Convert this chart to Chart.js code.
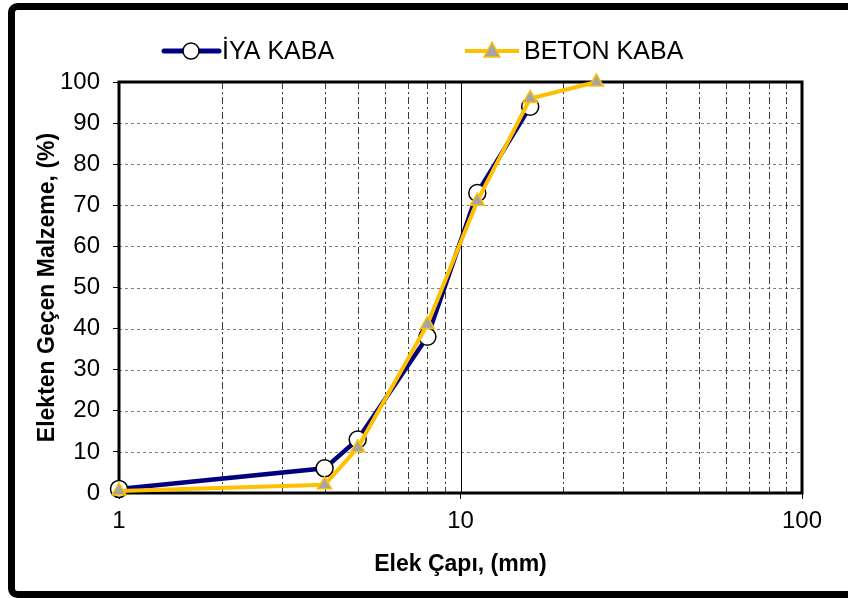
<!DOCTYPE html>
<html>
<head>
<meta charset="utf-8">
<script src="https://cdn.jsdelivr.net/npm/chart.js@4/dist/chart.umd.min.js"></script>
<style>
  html, body { margin:0; padding:0; background:#fff; }
  #wrap { width:848px; height:598px; position:relative; }
</style>
</head>
<body>
<div id="wrap"><canvas id="elekChart" width="848" height="598"></canvas></div>
<script>
// ---- data ----
const elekCapi   = [1, 4, 5, 8, 11.2, 16, 25];   // mm
const iyaKaba    = [1, 6, 13, 38, 73, 94];        // % passing
const betonKaba  = [0.5, 2, 11, 41, 71, 96, 100]; // % passing
const xTicks     = [1, 10, 100];
const xMinor     = [2, 3, 4, 5, 6, 7, 8, 9, 20, 30, 40, 50, 60, 70, 80, 90];
const yGrid      = [10, 20, 30, 40, 50, 60, 70, 80, 90];
const seriesNames = ['İYA KABA', 'BETON KABA'];

const FONT = "'Liberation Sans', Arial, sans-serif";

function toPoints(ys){
  return ys.map((y, i) => ({ x: elekCapi[i], y: y }));
}

// grid lines, plot frame, legend and outer frame
const decorPlugin = {
  id: 'decor',
  beforeDatasetsDraw(chart){
    const { ctx, chartArea: a, scales: { x, y } } = chart;
    ctx.save();
    // horizontal dashed grid
    ctx.strokeStyle = '#7f7f7f';
    ctx.lineWidth = 1;
    ctx.setLineDash([3, 3]);
    yGrid.forEach(v => {
      const py = Math.round(y.getPixelForValue(v)) + 0.5;
      ctx.beginPath(); ctx.moveTo(a.left, py); ctx.lineTo(a.right, py); ctx.stroke();
    });
    // vertical minor grid (dash-dot)
    ctx.strokeStyle = '#3a3a3a';
    ctx.setLineDash([7, 3, 2, 3]);
    xMinor.forEach(v => {
      const px = Math.round(x.getPixelForValue(v)) + 0.5;
      ctx.beginPath(); ctx.moveTo(px, a.top); ctx.lineTo(px, a.bottom); ctx.stroke();
    });
    // major at 10
    ctx.setLineDash([]);
    ctx.strokeStyle = '#000';
    const p10 = Math.round(x.getPixelForValue(10)) + 0.5;
    ctx.beginPath(); ctx.moveTo(p10, a.top); ctx.lineTo(p10, a.bottom); ctx.stroke();
    // plot frame
    ctx.lineWidth = 3;
    ctx.strokeRect(a.left, a.top, a.right - a.left, a.bottom - a.top);
    ctx.restore();
  },
  afterDraw(chart){
    const { ctx } = chart;
    ctx.save();
    // outer frame (right side falls outside the picture)
    ctx.strokeStyle = '#000';
    ctx.lineWidth = 7;
    ctx.beginPath();
    ctx.roundRect(11.5, 6.5, 860, 588, 6);
    ctx.stroke();

    // legend
    const ly = 51;
    ctx.lineCap = 'round';
    ctx.strokeStyle = '#000080';
    ctx.lineWidth = 5;
    ctx.beginPath(); ctx.moveTo(164, ly); ctx.lineTo(219, ly); ctx.stroke();
    ctx.lineCap = 'butt';
    ctx.fillStyle = '#fff';
    ctx.strokeStyle = '#000';
    ctx.lineWidth = 1.5;
    ctx.beginPath(); ctx.arc(191, ly, 8, 0, Math.PI * 2); ctx.fill(); ctx.stroke();

    ctx.strokeStyle = '#FFC000';
    ctx.lineWidth = 4;
    ctx.beginPath(); ctx.moveTo(465, ly); ctx.lineTo(519, ly); ctx.stroke();
    ctx.fillStyle = '#A5A5A5';
    ctx.lineWidth = 1.5;
    ctx.beginPath();
    ctx.moveTo(492, ly - 9); ctx.lineTo(500, ly + 6); ctx.lineTo(484, ly + 6); ctx.closePath();
    ctx.fill(); ctx.stroke();

    ctx.fillStyle = '#000';
    ctx.font = '25px ' + FONT;
    ctx.textBaseline = 'middle';
    ctx.fillText(seriesNames[0], 222, ly + 1);
    ctx.fillText(seriesNames[1], 524, ly + 1);
    ctx.restore();
  }
};

new Chart(document.getElementById('elekChart'), {
  type: 'line',
  data: {
    datasets: [
      {
        label: seriesNames[0],
        data: toPoints(iyaKaba),
        borderColor: '#000080',
        borderWidth: 4.5,
        pointRadius: 8.5,
        pointBackgroundColor: '#fff',
        pointBorderColor: '#000',
        pointBorderWidth: 1.5,
        tension: 0,
        clip: false,
        order: 1
      },
      {
        label: seriesNames[1],
        data: toPoints(betonKaba),
        borderColor: '#FFC000',
        borderWidth: 4,
        pointStyle: 'triangle',
        pointRadius: 8,
        pointBackgroundColor: '#A5A5A5',
        pointBorderColor: '#FFC000',
        pointBorderWidth: 1.5,
        tension: 0,
        clip: false,
        order: 0
      }
    ]
  },
  options: {
    responsive: false,
    animation: false,
    devicePixelRatio: 1,
    layout: { padding: { top: 82, right: 46, left: 28, bottom: 20 } },
    plugins: { legend: { display: false }, tooltip: { enabled: false } },
    scales: {
      x: {
        type: 'logarithmic',
        min: 1, max: 100,
        afterBuildTicks: s => { s.ticks = xTicks.map(v => ({ value: v })); },
        afterFit: s => { s.height = 85; },
        ticks: {
          autoSkip: false, maxRotation: 0,
          color: '#000', padding: 8,
          font: { family: FONT, size: 24 },
          callback: v => String(v)
        },
        grid: { drawOnChartArea: false, color: '#000', tickLength: 6, lineWidth: 1 },
        border: { display: false },
        title: {
          display: true, text: 'Elek Çapı, (mm)', color: '#000',
          font: { family: FONT, size: 23, weight: 'bold' },
          padding: { top: 3, bottom: 0 }
        }
      },
      y: {
        min: 0, max: 100,
        afterFit: s => { s.width = 91; },
        ticks: {
          stepSize: 10, color: '#000', padding: 13,
          font: { family: FONT, size: 24 }
        },
        grid: { drawOnChartArea: false, color: '#000', tickLength: 6, lineWidth: 1 },
        border: { display: false },
        title: {
          display: true, text: 'Elekten Geçen Malzeme, (%)', color: '#000',
          font: { family: FONT, size: 23, weight: 'bold' },
          padding: { top: 6, bottom: 0 }
        }
      }
    }
  },
  plugins: [decorPlugin]
});
</script>
</body>
</html>
